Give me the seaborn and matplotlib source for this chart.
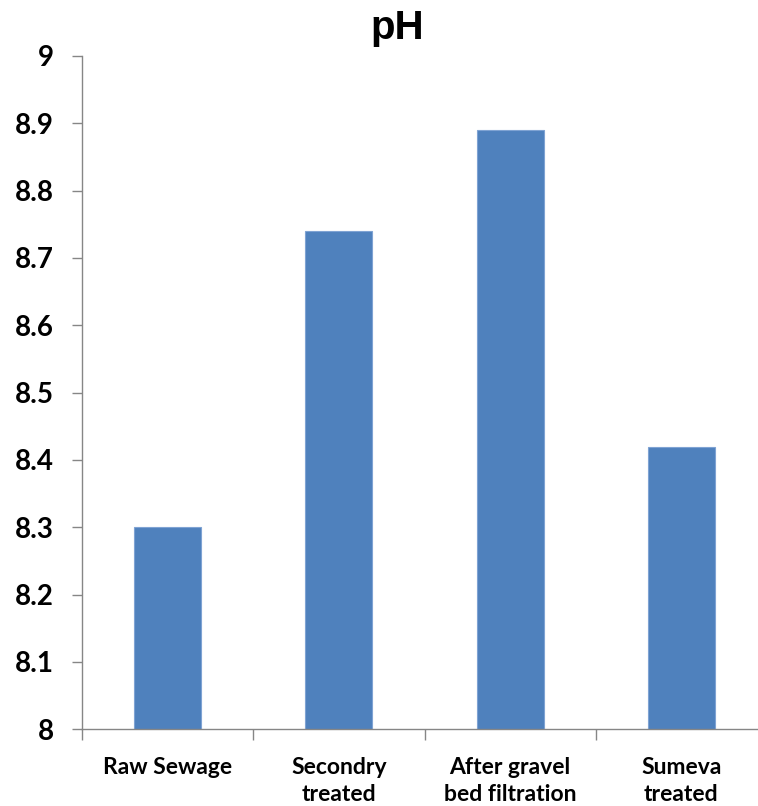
import matplotlib
matplotlib.use("Agg")
import matplotlib.pyplot as plt
from matplotlib.ticker import FixedLocator
import seaborn as sns
import pandas as pd

categories = ["Raw Sewage", "Secondry\ntreated", "After gravel\nbed filtration", "Sumeva\ntreated"]
ph_values = [8.30, 8.74, 8.89, 8.42]
y_ticks = [8, 8.1, 8.2, 8.3, 8.4, 8.5, 8.6, 8.7, 8.8, 8.9, 9]
y_tick_labels = ["8", "8.1", "8.2", "8.3", "8.4", "8.5", "8.6", "8.7", "8.8", "8.9", "9"]

sns.set_style("white")
plt.rcParams["font.family"] = ["Lato", "DejaVu Sans"]
plt.rcParams["text.color"] = "black"
plt.rcParams["xtick.labelcolor"] = "black"
plt.rcParams["ytick.labelcolor"] = "black"

df = pd.DataFrame({"stage": categories, "pH": ph_values})

W, H = 758, 806
fig = plt.figure(figsize=(W / 100, H / 100), dpi=100)
ax = fig.add_axes([82 / W, (H - 729.3) / H, (767 - 82) / W, 673.3 / H])

sns.barplot(data=df, x="stage", y="pH", color="#4F81BD", width=0.39,
            saturation=1, edgecolor="#7FA3D3", linewidth=0.8, ax=ax)

ax.set_ylim(8, 9)
ax.set_xlim(-0.5, 3.5)
ax.set_yticks(y_ticks)
ax.set_yticklabels(y_tick_labels)
ax.set_xlabel("")
ax.set_ylabel("")

grey = "#868686"
for side in ("top", "right"):
    ax.spines[side].set_visible(False)
for side in ("left", "bottom"):
    ax.spines[side].set_color(grey)
    ax.spines[side].set_linewidth(1.0)

# category boundaries carry the visible x ticks; labels sit between them
ax.xaxis.set_minor_locator(FixedLocator([-0.5, 0.5, 1.5, 2.5, 3.5]))
ax.tick_params(axis="x", which="minor", bottom=True, length=8, width=1,
               color=grey, direction="out")
ax.tick_params(axis="x", which="major", bottom=True, length=0, pad=20,
               labelcolor="black")
ax.tick_params(axis="y", which="major", left=True, length=7.2, width=1,
               color=grey, direction="out", pad=13, labelcolor="black")

for lbl in ax.get_xticklabels():
    lbl.set_fontsize(16.5)
    lbl.set_fontweight("bold")
    lbl.set_linespacing(1.35)
for lbl in ax.get_yticklabels():
    lbl.set_fontsize(20)
    lbl.set_fontweight("bold")

fig.text(397 / W, 1 - 28 / H, "pH", ha="center", va="center", color="black",
         fontsize=29, fontweight="bold", family=["Liberation Sans", "DejaVu Sans"])

fig.savefig("out.png", dpi=100)
